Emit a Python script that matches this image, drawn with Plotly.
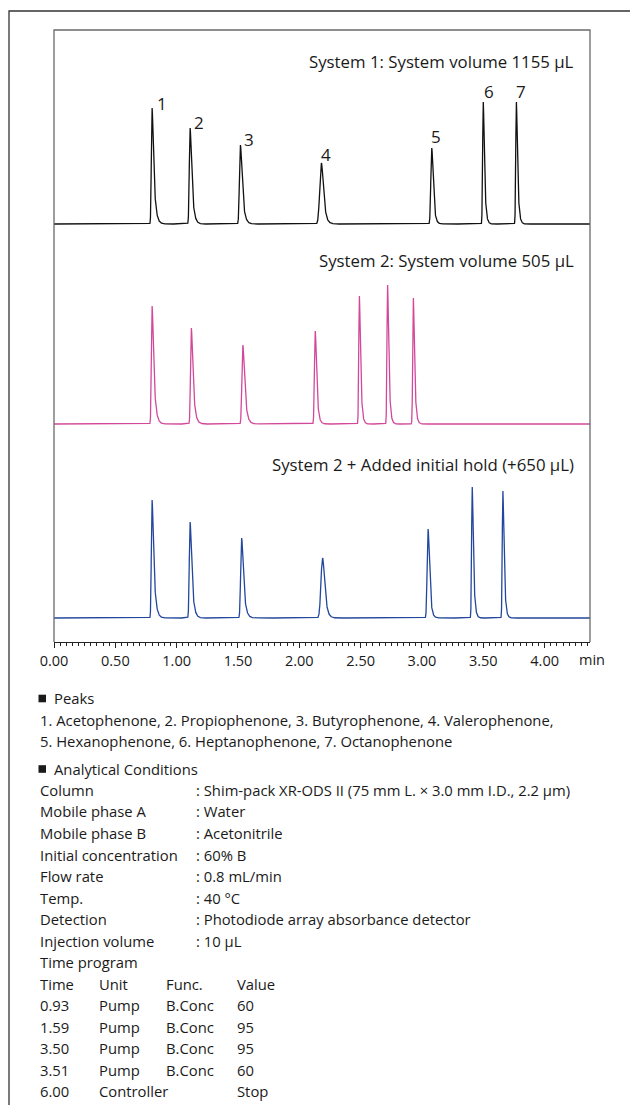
import numpy as np
import plotly.graph_objects as go

# ---------------- data ----------------
peak_labels = ["1", "2", "3", "4", "5", "6", "7"]

# System 1 (black)
rt_sys1 = [0.80, 1.11, 1.52, 2.18, 3.08, 3.50, 3.77]
ht_sys1 = [116, 96, 79, 61, 76, 122, 122]
sig_sys1 = [0.0045, 0.005, 0.006, 0.011, 0.006, 0.004, 0.004]
tau_sys1 = [0.015, 0.015, 0.016, 0.016, 0.012, 0.010, 0.010]

# System 2 (pink)
rt_sys2 = [0.80, 1.12, 1.54, 2.13, 2.49, 2.72, 2.93]
ht_sys2 = [118, 96, 79, 93, 128, 139, 126]
sig_sys2 = [0.0045, 0.005, 0.006, 0.005, 0.004, 0.004, 0.004]
tau_sys2 = [0.015, 0.015, 0.016, 0.012, 0.010, 0.010, 0.010]

# System 2 + initial hold (blue)
rt_sys3 = [0.80, 1.11, 1.53, 2.19, 3.05, 3.41, 3.66]
ht_sys3 = [118, 96, 80, 60, 89, 131, 127]
sig_sys3 = [0.0045, 0.005, 0.006, 0.011, 0.006, 0.004, 0.004]
tau_sys3 = [0.015, 0.015, 0.016, 0.016, 0.012, 0.010, 0.010]

panel_titles = [
    "System 1: System volume 1155 µL",
    "System 2: System volume 505 µL",
    "System 2 + Added initial hold (+650 µL)",
]

tick_vals = [0.0, 0.5, 1.0, 1.5, 2.0, 2.5, 3.0, 3.5, 4.0]
tick_text = ["0.00", "0.50", "1.00", "1.50", "2.00", "2.50", "3.00", "3.50", "4.00"]
x_unit = "min"

peaks_lines = [
    "1. Acetophenone, 2. Propiophenone, 3. Butyrophenone, 4. Valerophenone,",
    "5. Hexanophenone, 6. Heptanophenone, 7. Octanophenone",
]
cond_labels = ["Column", "Mobile phase A", "Mobile phase B", "Initial concentration",
               "Flow rate", "Temp.", "Detection", "Injection volume"]
cond_values = [": Shim-pack XR-ODS II (75 mm L. × 3.0 mm I.D., 2.2 µm)", ": Water",
               ": Acetonitrile", ": 60% B", ": 0.8 mL/min", ": 40 °C",
               ": Photodiode array absorbance detector", ": 10 µL"]
prog_header = ["Time", "Unit", "Func.", "Value"]
prog_rows = [
    ["0.93", "Pump", "B.Conc", "60"],
    ["1.59", "Pump", "B.Conc", "95"],
    ["3.50", "Pump", "B.Conc", "95"],
    ["3.51", "Pump", "B.Conc", "60"],
    ["6.00", "Controller", "", "Stop"],
]

# ---------------- layout constants ----------------
W, H = 630, 1105
PL, PR, PT, PB = 54, 590, 30, 642          # plot box in pixels
X_MAX = 4.37
Y_MAX = PB - PT                            # 1 y unit = 1 pixel
offsets = [418, 218, 24]                   # baselines of the 3 traces
colors = ["#111111", "#d2489a", "#23479c"]
FONT = "Open Sans"
TXT = "#1a1a1a"
BODY = 14.8


def px_x(px):
    return (px - PL) / (PR - PL)


def px_y(py):
    return (PB - py) / (PB - PT)


def emg_peak(t, rt, h, sigma, tau):
    dx = 0.0002
    x = np.arange(-8 * sigma, 8 * sigma + 12 * tau, dx)
    g = np.exp(-0.5 * (x / sigma) ** 2)
    e = np.exp(-np.arange(0, 12 * tau, dx) / tau)
    c = np.convolve(g, e)[:len(x)]
    i = int(np.argmax(c))
    c = c / c[i]
    return h * np.interp(t - rt + x[i], x, c, left=0.0, right=0.0)


t = np.arange(0.0, X_MAX + 0.0005, 0.0005)

series = [
    (rt_sys1, ht_sys1, sig_sys1, tau_sys1),
    (rt_sys2, ht_sys2, sig_sys2, tau_sys2),
    (rt_sys3, ht_sys3, sig_sys3, tau_sys3),
]

fig = go.Figure()
for k, (rts, hts, sigs, taus) in enumerate(series):
    y = np.zeros_like(t)
    for rt, h, s, tau in zip(rts, hts, sigs, taus):
        y += emg_peak(t, rt, h, s, tau)
    fig.add_trace(go.Scatter(x=t, y=y + offsets[k], mode="lines",
                             line=dict(color=colors[k], width=1.3),
                             hoverinfo="skip", showlegend=False))

annotations = []
# peak numbers on the first chromatogram
lab_dx = [10, 8.5, 9, 5, 4.5, 6, 5]
lab_dy = [5, 6, 6, 9, 12, 11, 11]
for lab, rt, h, dxs, dys in zip(peak_labels, rt_sys1, ht_sys1, lab_dx, lab_dy):
    annotations.append(dict(x=rt, y=h + offsets[0], xref="x", yref="y", text=lab,
                            showarrow=False, xanchor="center", yanchor="middle",
                            xshift=dxs, yshift=dys,
                            font=dict(family=FONT, size=17, color=TXT)))

# panel titles
title_y = [61, 260, 465]
for ttl, ty in zip(panel_titles, title_y):
    annotations.append(dict(x=px_x(576), y=px_y(ty), xref="paper", yref="paper",
                            text=ttl, showarrow=False, xanchor="right", yanchor="middle",
                            font=dict(family=FONT, size=16.8, color=TXT)))

# axis unit
annotations.append(dict(x=px_x(592), y=px_y(660), xref="paper", yref="paper",
                        text=x_unit, showarrow=False, xanchor="center", yanchor="middle",
                        font=dict(family=FONT, size=14.5, color=TXT)))


def txt(x, y, s, size=BODY):
    annotations.append(dict(x=px_x(x), y=px_y(y), xref="paper", yref="paper",
                            text=s, showarrow=False, xanchor="left", yanchor="middle",
                            font=dict(family=FONT, size=size, color=TXT)))


LX = 38
txt(52, 698, "Peaks")
txt(LX, 720, peaks_lines[0])
txt(LX, 741, peaks_lines[1])
txt(52, 769, "Analytical Conditions")
row_y = 790
STEP = 21.5
for lab, val in zip(cond_labels, cond_values):
    txt(LX, row_y, lab)
    txt(194, row_y, val)
    row_y += STEP
txt(LX, row_y, "Time program")
row_y += STEP
col_x = [LX, 97, 164, 235]
for cx, s in zip(col_x, prog_header):
    txt(cx, row_y, s)
row_y += STEP
for row in prog_rows:
    for cx, s in zip(col_x, row):
        if s:
            txt(cx, row_y, s)
    row_y += STEP

shapes = [
    # outer frame (left + top)
    dict(type="path", xref="paper", yref="paper",
         path=f"M {px_x(9)} {px_y(1105)} L {px_x(9)} {px_y(11)} L {px_x(630)} {px_y(11)}",
         line=dict(color="#333333", width=1.3)),
    # plot box (left, top, right)
    dict(type="path", xref="paper", yref="paper",
         path="M 0 0 L 0 1 L 1 1 L 1 0",
         line=dict(color="#6a6a6a", width=1.3)),
]
# square bullets of the section headers
for cy in (698.5, 769):
    shapes.append(dict(type="rect", xref="paper", yref="paper",
                       x0=px_x(38.5), x1=px_x(46), y0=px_y(cy + 3.8), y1=px_y(cy - 3.8),
                       fillcolor=TXT, line=dict(width=0)))

fig.update_layout(
    width=W, height=H,
    margin=dict(l=PL, r=W - PR, t=PT, b=H - PB, autoexpand=False),
    paper_bgcolor="white", plot_bgcolor="white",
    annotations=annotations, shapes=shapes,
    xaxis=dict(range=[0, X_MAX], tickmode="array", tickvals=tick_vals, ticktext=tick_text,
               showgrid=False, zeroline=False, showline=True, linecolor="#222222",
               linewidth=1.2, ticks="outside", ticklen=5, tickcolor="#222222", tickwidth=1,
               tickfont=dict(family=FONT, size=14.5, color=TXT),
               minor=dict(tickmode="linear", tick0=0, dtick=0.05, ticks="outside",
                          ticklen=3, tickcolor="#222222", tickwidth=1, showgrid=False)),
    yaxis=dict(range=[0, Y_MAX], visible=False, showgrid=False, zeroline=False),
)

fig.write_html("out.html", config={"displayModeBar": False, "staticPlot": True},
               post_script="document.body.style.margin='0';document.body.style.overflow='hidden';")
